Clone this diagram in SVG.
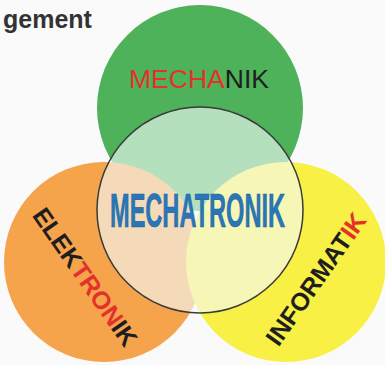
<svg xmlns="http://www.w3.org/2000/svg" width="385" height="365" viewBox="0 0 385 365">
<style>
.lbl{font-family:"Liberation Sans",Arial,sans-serif;}
.red{fill:#e2322b;}
.blk{fill:#1e1e1e;}
</style>
<rect width="385" height="365" fill="#fafafa"/>
<text class="lbl" x="3" y="28" font-size="25" font-weight="bold" fill="#333">gement</text>
<g id="mechanik">
<circle cx="200" cy="108" r="103" fill="#4db25a"/>
<text class="lbl" x="129" y="88" font-size="25" textLength="140" lengthAdjust="spacingAndGlyphs"><tspan class="red">MECHA</tspan><tspan class="blk">NIK</tspan></text>
</g>
<g id="elektronik">
<circle cx="104" cy="262" r="100" fill="#f5a44c"/>
<text class="lbl" font-size="25" font-weight="bold" text-anchor="middle" transform="translate(78,282) rotate(55)"><tspan class="blk">ELEK</tspan><tspan class="red">TRON</tspan><tspan class="blk">IK</tspan></text>
</g>
<g id="informatik">
<circle cx="286" cy="262" r="100" fill="#f8f044"/>
<text class="lbl" font-size="25" font-weight="bold" text-anchor="middle" transform="translate(323,284) rotate(-55)"><tspan class="blk">INFORMAT</tspan><tspan class="red">IK</tspan></text>
</g>
<g id="mechatronik">
<circle cx="200" cy="210" r="103" fill="#f6fbfb" fill-opacity="0.62" stroke="#3a3a3a" stroke-width="1.5"/>
<text class="lbl" x="110" y="227" font-size="49" font-weight="bold" fill="#2a76b6" stroke="#1f5f99" stroke-width="0.6" textLength="175" lengthAdjust="spacingAndGlyphs">MECHATRONIK</text>
</g>
<g id="connectors"/>
</svg>
